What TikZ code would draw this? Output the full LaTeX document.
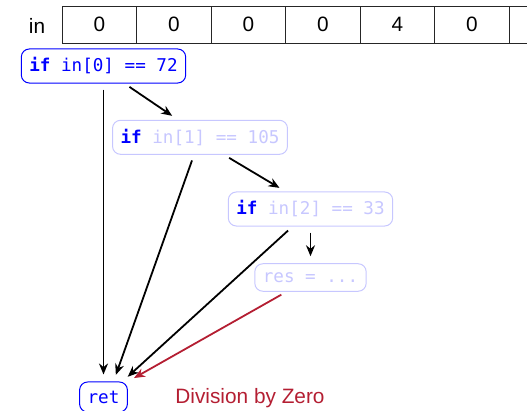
\documentclass[tikz,border=0pt]{standalone}
\usepackage{fontspec}
\setmainfont{Liberation Sans}
\setmonofont{DejaVu Sans Mono}
\usetikzlibrary{arrows.meta,positioning}
\definecolor{divred}{RGB}{180,30,50}
\colorlet{faded}{blue!22}

\begin{document}
\begin{tikzpicture}[
    x=1pt, y=-1pt,
    font=\fontsize{20.8}{24}\selectfont,
    cell/.style={rectangle, draw=black!85, line width=0.9pt, minimum width=74.5pt, minimum height=37pt, inner sep=0pt, outer sep=0pt},
    code/.style={rectangle, rounded corners=8pt, draw=blue, line width=1pt, inner xsep=8pt, inner ysep=8.7pt, text=blue, font=\fontsize{17.6}{20}\selectfont\ttfamily},
    ghost/.style={code, draw=faded, text=faded},
    arrow/.style={-{Stealth[length=11pt,width=9pt]}, line width=1.8pt, shorten <=6pt, shorten >=7pt}
]
\useasboundingbox (0,0) rectangle (527,411);
\clip (0,0) rectangle (527,411);

% input array
\node (inlbl) at (37,25.5) {in};
\node[cell] (c1) at (99.5,24.5) {0};
\node[cell, right=0pt of c1] (c2) {0};
\node[cell, right=0pt of c2] (c3) {0};
\node[cell, right=0pt of c3] (c4) {0};
\node[cell, right=0pt of c4] (c5) {4};
\node[cell, right=0pt of c5] (c6) {0};
\node[cell, right=0pt of c6] (c7) {};

% branches
\node[code] (if0) at (103.5,66) {\textbf{if} in[0] == 72};
\node[ghost] (if1) at (200,137.3) {{\color{blue}\textbf{if}} in[1] == 105};
\node[ghost] (if2) at (310.5,209) {{\color{blue}\textbf{if}} in[2] == 33};
\node[ghost] (res) at (310.5,277.5) {res = ...};
\node[code] (ret) at (103.5,397) {ret};
\node[text=divred] (divzero) at (250,398) {Division by Zero};

\draw[arrow] (if0.south) -- (ret.north);
\draw[arrow] ([xshift=21pt]if0.south) -- ([xshift=-22pt]if1.north);
\draw[arrow] ([xshift=-6pt]if1.south) -- ([xshift=10pt]ret.north);
\draw[arrow] ([xshift=24pt]if1.south) -- ([xshift=-25pt]if2.north);
\draw[arrow] ([xshift=-18pt]if2.south) -- ([xshift=19pt]ret.north);
\draw[arrow] (if2.south) -- (res.north);
\draw[arrow, draw=divred, fill=divred] ([xshift=-24pt]res.south) -- (ret.north east);
\end{tikzpicture}
\end{document}
